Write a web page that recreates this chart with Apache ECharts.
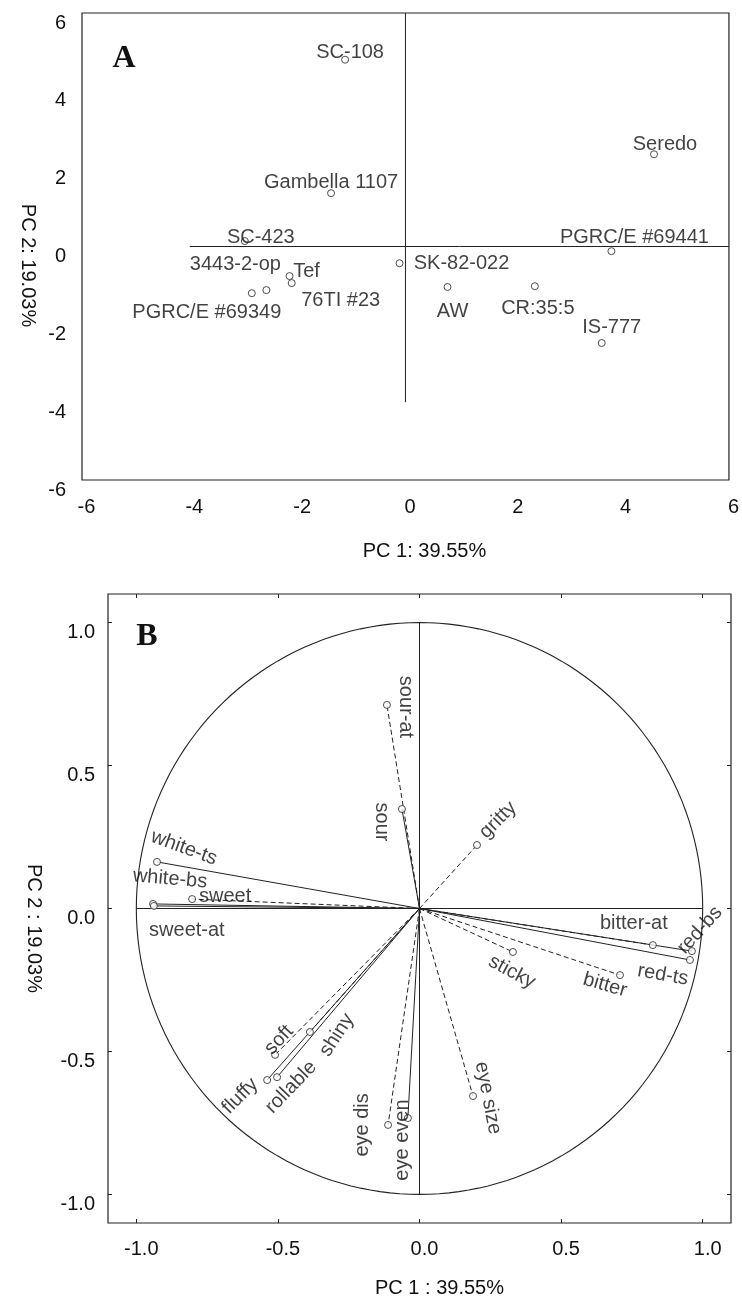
<!DOCTYPE html>
<html>
<head>
<meta charset="utf-8">
<script src="https://cdn.jsdelivr.net/npm/echarts@6/dist/echarts.min.js"></script>
<style>
html,body{margin:0;padding:0;background:#fff;}
#c{width:742px;height:1299px;}
</style>
</head>
<body>
<div id="c"></div>
<script>
// ---------- Panel A: cultivar scores ----------
const cultivars = ['SC-108','Gambella 1107','SC-423','3443-2-op','Tef','76TI #23','PGRC/E #69349','SK-82-022','AW','CR:35:5','IS-777','PGRC/E #69441','Seredo'];
const scorePC1 = [-1.12,-1.38,-2.98,-2.58,-2.15,-2.11,-2.85,-0.11,0.78,2.40,3.64,3.82,4.61];
const scorePC2 = [4.80,1.37,0.14,-1.12,-0.76,-0.94,-1.20,-0.43,-1.04,-1.02,-2.48,-0.12,2.37];
const ticksA = [-6,-4,-2,0,2,4,6];
const crossA = [-4,6];   // extent of the reference lines through the origin

// ---------- Panel B: attribute loadings ----------
const attributes = ['sour-at','sour','gritty','white-ts','white-bs','sweet','sweet-at','bitter-at','red-bs','red-ts','bitter','sticky','eye size','eye even','eye dis','fluffy','rollable','soft','shiny'];
const loadPC1 = [-0.115,-0.062,0.203,-0.927,-0.941,-0.803,-0.938,0.824,0.962,0.955,0.708,0.330,0.189,-0.041,-0.111,-0.538,-0.503,-0.510,-0.387];
const loadPC2 = [0.712,0.348,0.222,0.163,0.016,0.033,0.009,-0.128,-0.149,-0.180,-0.233,-0.152,-0.656,-0.733,-0.757,-0.600,-0.590,-0.512,-0.432];
const ticksB = [-1.0,-0.5,0.0,0.5,1.0];
const crossB = [-1,1];
const circleRadius = [1];

const titles = {xA:'PC 1: 39.55%', yA:'PC 2: 19.03%', xB:'PC 1 : 39.55%', yB:'PC 2 : 19.03%'};

// ---------- styling (kept apart from the data) ----------
const FONT = '"Liberation Sans", Arial, sans-serif';
const INK = '#111';
const LINE = '#222';
const labelOffsetA = {
  'SC-108':[5,-7],'Gambella 1107':[0,-11],'SC-423':[16,-4],'3443-2-op':[-31,-26],'Tef':[17,-5],
  '76TI #23':[49,17],'PGRC/E #69349':[-45,19],'SK-82-022':[62,0],'AW':[5,25],'CR:35:5':[3,22],
  'IS-777':[10,-16],'PGRC/E #69441':[23,-14],'Seredo':[11,-10]
};
// [dx, dy, rotation(deg)]
const labelStyleB = {
  'sour-at':[19,2,-90],'sour':[-20,13,-90],'gritty':[21,-25,45],'white-ts':[27,-14,-20],
  'white-bs':[17,-25,-5],'sweet':[33,-3,0],'sweet-at':[33,25,0],'bitter-at':[-19,-22,0],
  'red-bs':[8,-21,48],'red-ts':[-27,15,-10],'bitter':[-15,10,-16],'sticky':[-1,20,-28],
  'eye size':[15,2,-79],'eye even':[-5,22,90],'eye dis':[-26,0,90],'fluffy':[-27,16,45],
  'rollable':[14,10,46],'soft':[4,-15,47],'shiny':[27,3,57]
};
const dashB = {
  'sour-at':'dashed','sour':'solid','gritty':'dashed','white-ts':'solid','white-bs':'solid',
  'sweet':'dashed','sweet-at':'solid','bitter-at':'dashed','red-bs':'solid','red-ts':'solid',
  'bitter':'dashed','sticky':'dashed','eye size':'dashed','eye even':'solid','eye dis':'dashed',
  'fluffy':'solid','rollable':'solid','soft':'dashed','shiny':'dashed'
};

function toLocal(dx, dy, deg){
  const t = deg*Math.PI/180;
  return [dx*Math.cos(t) - dy*Math.sin(t), dx*Math.sin(t) + dy*Math.cos(t)];
}

const textBase = {color:INK, fontFamily:FONT, fontSize:20};
const hollow = {color:'#fff', borderColor:LINE, borderWidth:1};

const scatterA = cultivars.map((n,i)=>({
  name:n, value:[scorePC1[i], scorePC2[i]],
  label:{offset:labelOffsetA[n]}
}));
const scatterB = attributes.map((n,i)=>{
  const s = labelStyleB[n];
  return {name:n, value:[loadPC1[i], loadPC2[i]], label:{rotate:s[2], offset:toLocal(s[0], s[1], s[2])}};
});

const series = [];
// panel A reference cross
series.push({type:'line', xAxisIndex:0, yAxisIndex:0, data:[[crossA[0],0],[crossA[1],0]], symbol:'none', silent:true, lineStyle:{color:LINE,width:1}});
series.push({type:'line', xAxisIndex:0, yAxisIndex:0, data:[[0,crossA[0]],[0,crossA[1]]], symbol:'none', silent:true, lineStyle:{color:LINE,width:1}});
series.push({
  type:'scatter', xAxisIndex:0, yAxisIndex:0, data:scatterA, symbol:'circle', symbolSize:7,
  itemStyle:hollow, z:5,
  label:Object.assign({show:true, position:'inside', formatter:'{b}', align:'center', verticalAlign:'middle'}, textBase)
});
// panel B reference cross + unit circle
series.push({type:'line', xAxisIndex:1, yAxisIndex:1, data:[[crossB[0],0],[crossB[1],0]], symbol:'none', silent:true, lineStyle:{color:LINE,width:1}});
series.push({type:'line', xAxisIndex:1, yAxisIndex:1, data:[[0,crossB[0]],[0,crossB[1]]], symbol:'none', silent:true, lineStyle:{color:LINE,width:1}});
series.push({
  type:'custom', xAxisIndex:1, yAxisIndex:1, data:[[0,0,circleRadius[0]]], encode:{x:0,y:1}, silent:true, clip:false,
  renderItem:function(params, api){
    const cx = api.value(0), cy = api.value(1), r = api.value(2);
    const pts = [];
    for(let a=0;a<=360;a+=2){
      const t = a*Math.PI/180;
      pts.push(api.coord([cx + r*Math.cos(t), cy + r*Math.sin(t)]));
    }
    return {type:'polyline', shape:{points:pts}, style:{stroke:LINE, fill:null, lineWidth:1.1}};
  }
});
// vectors
attributes.forEach((n,i)=>{
  series.push({
    type:'line', xAxisIndex:1, yAxisIndex:1, data:[[0,0],[loadPC1[i], loadPC2[i]]], symbol:'none', silent:true,
    lineStyle:{color:LINE, width:1, type: dashB[n]==='dashed' ? [5,3] : 'solid'}
  });
});
series.push({
  type:'scatter', xAxisIndex:1, yAxisIndex:1, data:scatterB, symbol:'circle', symbolSize:7,
  itemStyle:hollow, z:5,
  label:Object.assign({show:true, position:'inside', formatter:'{b}', align:'center', verticalAlign:'middle'}, textBase)
});

const noLine = {show:false, onZero:false};
const option = {
  animation:false,
  backgroundColor:'#fff',
  grid:[
    {left:82, top:13, width:651, height:467, show:true, borderColor:LINE, borderWidth:1.2, backgroundColor:'transparent'},
    {left:108, top:594, width:623, height:629, show:true, borderColor:LINE, borderWidth:1.2, backgroundColor:'transparent'}
  ],
  xAxis:[
    {gridIndex:0, type:'value', min:ticksA[0], max:ticksA[ticksA.length-1], interval:2,
     axisLine:noLine, axisTick:{show:false}, splitLine:{show:false},
     axisLabel:Object.assign({margin:17, padding:[0,0,0,9]}, textBase),
     name:titles.xA, nameLocation:'middle', nameGap:61,
     nameTextStyle:Object.assign({padding:[0,0,0,38]}, textBase)},
    {gridIndex:1, type:'value', min:-1.1, max:1.1,
     axisLine:noLine, splitLine:{show:false},
     axisTick:{show:true, inside:true, length:4, customValues:ticksB, lineStyle:{color:LINE}},
     axisLabel:Object.assign({margin:16, padding:[0,0,0,10], customValues:ticksB, formatter:v=>v.toFixed(1)}, textBase),
     name:titles.xB, nameLocation:'middle', nameGap:55,
     nameTextStyle:Object.assign({padding:[0,0,0,40]}, textBase)},
    {gridIndex:1, type:'value', position:'top', min:-1.1, max:1.1,
     axisLine:noLine, splitLine:{show:false}, axisLabel:{show:false},
     axisTick:{show:true, inside:true, length:4, customValues:ticksB, lineStyle:{color:LINE}}}
  ],
  yAxis:[
    {gridIndex:0, type:'value', min:ticksA[0], max:ticksA[ticksA.length-1], interval:2,
     axisLine:noLine, axisTick:{show:false}, splitLine:{show:false},
     axisLabel:Object.assign({margin:16, verticalAlign:'top'}, textBase),
     name:titles.yA, nameLocation:'middle', nameGap:39, nameRotate:-90,
     nameTextStyle:Object.assign({padding:[0,0,0,38]}, textBase)},
    {gridIndex:1, type:'value', min:-1.1, max:1.1,
     axisLine:noLine, splitLine:{show:false},
     axisTick:{show:true, inside:true, length:4, customValues:ticksB, lineStyle:{color:LINE}},
     axisLabel:Object.assign({margin:13, verticalAlign:'top', customValues:ticksB, formatter:v=>v.toFixed(1)}, textBase),
     name:titles.yB, nameLocation:'middle', nameGap:64, nameRotate:-90,
     nameTextStyle:Object.assign({padding:[0,0,0,40]}, textBase)},
    {gridIndex:1, type:'value', position:'right', min:-1.1, max:1.1,
     axisLine:noLine, splitLine:{show:false}, axisLabel:{show:false},
     axisTick:{show:true, inside:true, length:4, customValues:ticksB, lineStyle:{color:LINE}}}
  ],
  graphic:[
    {type:'text', x:124, y:59, style:{text:'A', font:'bold 32px "Liberation Serif", "Times New Roman", serif', fill:'#111', align:'center', verticalAlign:'middle', textAlign:'center', textVerticalAlign:'middle'}},
    {type:'text', x:147, y:637, style:{text:'B', font:'bold 32px "Liberation Serif", "Times New Roman", serif', fill:'#111', align:'center', verticalAlign:'middle', textAlign:'center', textVerticalAlign:'middle'}}
  ],
  series:series
};

const chart = echarts.init(document.getElementById('c'), null, {renderer:'canvas'});
chart.setOption(option);
</script>
</body>
</html>
